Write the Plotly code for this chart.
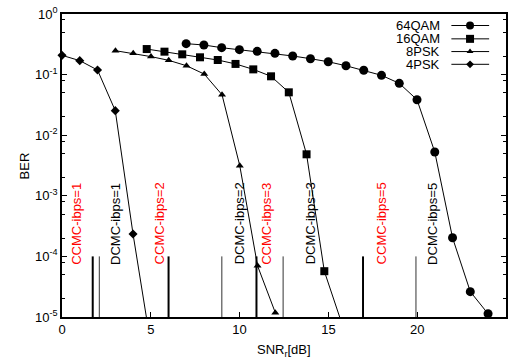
import plotly.graph_objects as go

# ---------------- data ----------------
psk4_x = [0, 1, 2, 3, 4, 5]
psk4_y = [0.208, 0.17, 0.119, 0.0254, 2.34e-4, 3.5e-6]

psk8_x = [3.01, 4.01, 5.01, 6.01, 7.01, 8.01, 9.01, 10.01, 11.01, 12.01]
psk8_y = [0.248, 0.224, 0.198, 0.172, 0.14, 0.102, 0.0465, 3.14e-3, 7.0e-5, 1.18e-5]

qam16_x = [4.77, 5.77, 6.77, 7.77, 8.77, 9.77, 10.77, 11.77, 12.77, 13.77, 14.77, 15.77]
qam16_y = [0.264, 0.239, 0.216, 0.193, 0.174, 0.150, 0.122, 0.0937, 0.051, 4.84e-3, 5.7e-5, 7.6e-6]

qam64_x = [6.99, 7.99, 8.99, 9.99, 10.99, 11.99, 12.99, 13.99, 14.99, 15.99, 16.99,
           17.99, 18.99, 19.99, 20.99, 21.99, 22.99, 23.99]
qam64_y = [0.324, 0.308, 0.278, 0.258, 0.242, 0.224, 0.203, 0.183, 0.163, 0.140, 0.118,
           0.0973, 0.0718, 0.0385, 5.28e-3, 2.03e-4, 2.62e-5, 1.13e-5]

series_names = ["64QAM", "16QAM", "8PSK", "4PSK"]
series_symbols = ["circle", "square", "triangle-up", "diamond"]

ccmc_x = [1.73, 6.0, 10.95, 16.95]
dcmc_x = [2.1, 9.0, 12.45, 19.93]
threshold_top = 1e-4
threshold_bottom = 1e-5

label_texts = ["CCMC-ibps=1", "DCMC-ibps=1", "CCMC-ibps=2", "DCMC-ibps=2",
               "CCMC-ibps=3", "DCMC-ibps=3", "CCMC-ibps=5", "DCMC-ibps=5"]
label_x = [0.85, 3.0, 5.5, 10.0, 11.55, 14.0, 18.0, 20.9]
label_colors = ["#ff0000", "#000000", "#ff0000", "#000000",
                "#ff0000", "#000000", "#ff0000", "#000000"]

x_ticks = [0, 5, 10, 15, 20, 25]
y_ticks = [1e-5, 1e-4, 1e-3, 1e-2, 1e-1, 1]
y_ticktext = ["10<sup>-5</sup>", "10<sup>-4</sup>", "10<sup>-3</sup>",
              "10<sup>-2</sup>", "10<sup>-1</sup>", "10<sup>0</sup>"]
y_minor = [m * 10 ** e for e in range(-5, 0) for m in (2, 5, 8)]

FONT = "Liberation Sans, Arial, Helvetica, sans-serif"
YMIN = 1e-5

fig = go.Figure()

sizes = {"circle": 9, "square": 8, "triangle-up": 7, "diamond": 7}
data = [(qam64_x, qam64_y), (qam16_x, qam16_y), (psk8_x, psk8_y), (psk4_x, psk4_y)]

for (xs, ys), name, sym in zip(data, series_names, series_symbols):
    # connecting line (clipped to the plot area)
    fig.add_trace(go.Scatter(x=xs, y=ys, mode="lines", line=dict(color="black", width=1),
                             showlegend=False, hoverinfo="skip"))
    # markers for points inside the axis range
    mx = [x for x, y in zip(xs, ys) if y >= YMIN * 0.999]
    my = [y for y in ys if y >= YMIN * 0.999]
    fig.add_trace(go.Scatter(x=mx, y=my, mode="markers", name=name, cliponaxis=False,
                             marker=dict(symbol=sym, size=sizes[sym], color="black",
                                         line=dict(width=0)),
                             showlegend=False))

# threshold lines
def vlines(xs):
    vx, vy = [], []
    for v in xs:
        vx += [v, v, None]
        vy += [threshold_top, threshold_bottom, None]
    return vx, vy

cx, cy = vlines(ccmc_x)
fig.add_trace(go.Scatter(x=cx, y=cy, mode="lines", line=dict(color="black", width=2),
                         showlegend=False, hoverinfo="skip"))
dx, dy = vlines(dcmc_x)
fig.add_trace(go.Scatter(x=dx, y=dy, mode="lines", line=dict(color="#333333", width=1),
                         showlegend=False, hoverinfo="skip"))

# custom key (text left, sample right) on an overlay axis
leg_rows = [0.962, 0.918, 0.876, 0.834]
leg_sizes = {"circle": 8, "square": 8, "triangle-up": 6, "diamond": 6}
for name, sym, ry in zip(series_names, series_symbols, leg_rows):
    fig.add_trace(go.Scatter(x=[0.877, 0.962], y=[ry, ry], mode="lines",
                             line=dict(color="black", width=1), xaxis="x2", yaxis="y2",
                             showlegend=False, hoverinfo="skip"))
    fig.add_trace(go.Scatter(x=[0.919], y=[ry], mode="markers", xaxis="x2", yaxis="y2",
                             marker=dict(symbol=sym, size=leg_sizes[sym], color="black"),
                             showlegend=False, hoverinfo="skip", cliponaxis=False))
    fig.add_annotation(x=0.855, y=ry, xref="x2", yref="y2", text=name, showarrow=False,
                       xanchor="right", yanchor="middle",
                       font=dict(family=FONT, size=13, color="black"))

# rotated labels
for t, lx, c in zip(label_texts, label_x, label_colors):
    fig.add_annotation(x=lx, y=-4.17, xref="x", yref="y", text=t, textangle=-90,
                       showarrow=False, xanchor="center", yanchor="bottom",
                       font=dict(family=FONT, size=13, color=c))

# axis titles
fig.add_annotation(x=0.5, y=-0.075, xref="paper", yref="paper", yanchor="top",
                   text="SNR<sub>r</sub>[dB]", showarrow=False,
                   font=dict(family=FONT, size=13, color="black"))
fig.add_annotation(x=-0.105, y=0.5, xref="paper", yref="paper", text="BER", textangle=-90,
                   showarrow=False, font=dict(family=FONT, size=13, color="black"))

fig.update_layout(
    width=510, height=360,
    margin=dict(l=62, r=2, t=14, b=43),
    paper_bgcolor="white", plot_bgcolor="white",
    font=dict(family=FONT, size=13, color="black"),
    showlegend=False,
    xaxis=dict(range=[0, 25], tickvals=x_ticks, ticks="inside", ticklen=5,
               tickcolor="black", showline=True, linecolor="black", linewidth=1.5,
               mirror=True, showgrid=False, zeroline=False,
               tickfont=dict(family=FONT, size=13)),
    yaxis=dict(type="log", range=[-5, 0], tickvals=y_ticks, ticktext=y_ticktext,
               ticks="inside", ticklen=5, tickcolor="black", showline=True,
               linecolor="black", linewidth=1.5, mirror="ticks", showgrid=False,
               zeroline=False, tickfont=dict(family=FONT, size=13),
               minor=dict(tickvals=y_minor, ticks="inside", ticklen=3, tickcolor="black")),
    xaxis2=dict(overlaying="x", range=[0, 1], visible=False),
    yaxis2=dict(overlaying="y", range=[0, 1], visible=False),
)

fig.write_html("out.html")
